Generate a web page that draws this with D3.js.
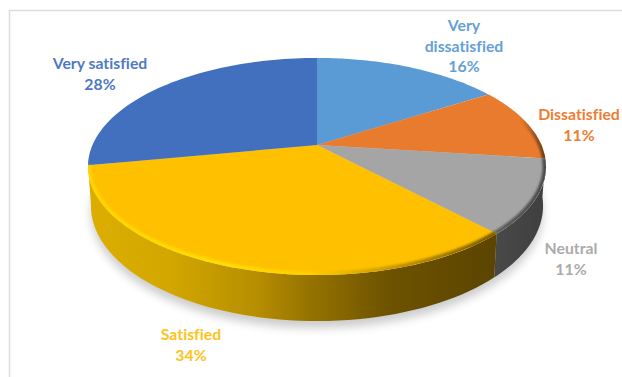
<!DOCTYPE html>
<html>
<head>
<meta charset="utf-8">
<script src="https://cdn.jsdelivr.net/npm/d3@7/dist/d3.min.js"></script>
<style>
  html, body { margin: 0; padding: 0; background: #fff; }
  svg { display: block; }
  text { font-family: Lato, "Open Sans", sans-serif; font-weight: 700; font-size: 15.8px; text-anchor: middle; font-variant-ligatures: none; }
</style>
</head>
<body>
<svg id="chart" width="622" height="377"></svg>
<script>
// Survey responses, clockwise from twelve o'clock
const categories = ["Very dissatisfied", "Dissatisfied", "Neutral", "Satisfied", "Very satisfied"];
const shares = [16, 11, 11, 34, 28];
const faceColors = ["#5b9bd5", "#e97b2e", "#a5a5a5", "#ffc000", "#4270bf"];
const labelColors = ["#659fd8", "#ed7d31", "#ababab", "#ffc21a", "#4f79c4"];
const labelLines = [["Very", "dissatisfied"], ["Dissatisfied"], ["Neutral"], ["Satisfied"], ["Very satisfied"]];

const svg = d3.select("#chart");
const defs = svg.append("defs");

// Perspective projection of the unit disc: the hub sits above the ellipse centre
const hub = { x: 317, y: 145 };
const tilt = 0.198, spanX = 224.5, spanY = 104.3;
const project = a => {
  const ux = Math.sin(a), uy = -Math.cos(a), w = 1 - tilt * uy;
  return [hub.x + spanX * ux / w, hub.y + spanY * uy / w];
};
// The lower rim of the disc, a little narrower and further down the page
const lower = a => {
  const [x, y] = project(a);
  return [hub.x + (x - hub.x) * 0.987, hub.y + 38 + (y - hub.y) * 1.062];
};
const arcPoints = (fn, a0, a1) => d3.range(0, 61).map(i => fn(a0 + (a1 - a0) * i / 60));
const line = d3.line();

const arcs = d3.pie().sort(null).startAngle(0).endAngle(2 * Math.PI)(shares);

// Gradients and soft edges
const blur = (id, sd) => defs.append("filter").attr("id", id)
  .attr("x", "-20%").attr("y", "-20%").attr("width", "140%").attr("height", "140%")
  .append("feGaussianBlur").attr("stdDeviation", sd);
blur("shadowBlur", 5);
blur("rimBlur", 1.3);

const gradient = (id, x1, x2, stops) => {
  const g = defs.append("linearGradient").attr("id", id).attr("gradientUnits", "userSpaceOnUse")
    .attr("x1", x1).attr("x2", x2).attr("y1", 0).attr("y2", 0);
  stops.forEach(([o, c]) => g.append("stop").attr("offset", o).attr("stop-color", c));
};
gradient("wallGold", 88, 490, [[0, "#dcae00"], [0.2, "#d3a700"], [0.42, "#b68e00"], [0.55, "#967300"], [0.75, "#6d5200"], [1, "#5c4500"]]);
gradient("wallGrey", 488, 546, [[0, "#4a4a4a"], [1, "#3f3f3f"]]);
gradient("rimGold", 88, 490, [[0, "#ffd400"], [0.3, "#ffe000"], [0.55, "#ffd000"], [0.75, "#c99a00"], [1, "#7a5c00"]]);
gradient("rimGrey", 488, 546, [[0, "#5f5f5f"], [1, "#4a4a4a"]]);
gradient("rimOrange", 520, 546, [[0, "#e97b2e"], [1, "#5e3a1c"]]);

// Frame around the chart area
svg.append("path").attr("d", "M622,10.5H9.5V377").attr("fill", "none").attr("stroke", "#dcdcdc").attr("stroke-width", 1.5);

// Cast shadow below the disc
svg.append("path")
  .attr("d", line(arcPoints(lower, 0, 2 * Math.PI)) + "Z")
  .attr("transform", "translate(0,7)")
  .attr("fill", "#000").attr("opacity", 0.2).attr("filter", "url(#shadowBlur)");

// Outer walls of the slices that face the viewer
const wallFill = { 2: "url(#wallGrey)", 3: "url(#wallGold)" };
arcs.forEach((d, i) => {
  if (!wallFill[i]) return;
  const pts = arcPoints(project, d.startAngle, d.endAngle)
    .concat(arcPoints(lower, d.endAngle, d.startAngle));
  svg.append("path").attr("d", line(pts) + "Z").attr("fill", wallFill[i]);
});

// Top faces
const clip = defs.append("clipPath").attr("id", "faceClip");
clip.append("path").attr("d", line(arcPoints(project, 0, 2 * Math.PI)) + "Z");

svg.append("g").selectAll("path").data(arcs).join("path")
  .attr("d", d => line([[hub.x, hub.y]].concat(arcPoints(project, d.startAngle, d.endAngle))) + "Z")
  .attr("fill", (d, i) => faceColors[i]);

// Bevel along the front rim, kept inside the top face
const rims = { 1: "url(#rimOrange)", 2: "url(#rimGrey)", 3: "url(#rimGold)" };
const rimLayer = svg.append("g").attr("clip-path", "url(#faceClip)");
arcs.forEach((d, i) => {
  if (!rims[i]) return;
  rimLayer.append("path")
    .attr("d", line(arcPoints(project, d.startAngle, d.endAngle)))
    .attr("fill", "none").attr("stroke", rims[i]).attr("stroke-width", 7)
    .attr("filter", "url(#rimBlur)");
});

// Data labels
const labelSpots = [[464, 31], [579, 120], [571, 254], [191, 340], [100, 69]];
const lineGap = 20.7;
arcs.forEach((d, i) => {
  const rows = labelLines[i].concat(d3.format("d")(shares[i]) + "%");
  const [x, y] = labelSpots[i];
  const t = svg.append("text").attr("fill", labelColors[i]);
  rows.forEach((row, r) => t.append("tspan").attr("x", x).attr("y", y + r * lineGap).text(row));
});
</script>
</body>
</html>
